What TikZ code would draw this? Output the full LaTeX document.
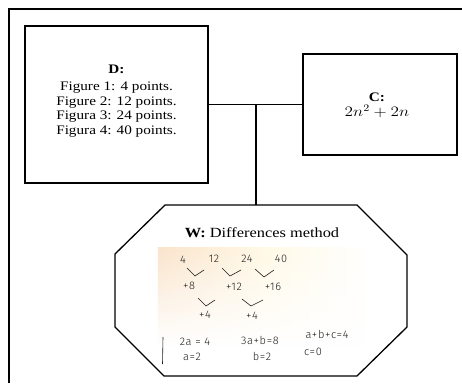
\documentclass[tikz,border=0pt]{standalone}
\usepackage{fontspec}
\setmainfont{Liberation Serif}[FakeStretch=1.17]
\newfontfamily\hand{Fira Sans Light}[LetterSpace=6]
\usetikzlibrary{fadings}
\definecolor{peach}{RGB}{250,228,204}
\definecolor{ink}{RGB}{30,30,30}
\tikzset{
  box/.style={draw, line width=1.3pt, inner sep=0pt},
  conn/.style={line width=1.2pt},
  lbl/.style={font=\fontsize{13}{14.5}\selectfont, align=center, inner sep=0pt},
  hw/.style={font=\hand\fontsize{11}{12}\selectfont, text=ink, inner sep=0pt, anchor=center},
  vmark/.style={draw=ink, line width=0.6pt},
}
\begin{document}
\begin{tikzpicture}[x=1pt,y=-1pt]
\useasboundingbox (0,0) rectangle (462,383);
\fill[white] (0,0) rectangle (462,383);
% outer frame (top and left visible)
\draw[line width=1.5pt] (9,383) -- (9,9) -- (462,9);
% D box
\node[box, minimum width=183pt, minimum height=157pt] (D) at (116.5,104.5) {};
\node[lbl] (Dt) at (116.5,101) {\textbf{D:}\\[3pt]Figure 1: 4 points.\\Figure 2: 12 points.\\Figura 3: 24 points.\\Figura 4: 40 points.};
% C box
\node[box, minimum width=154pt, minimum height=101pt] (C) at (380,104.5) {};
\node[lbl] (Ct) at (377,105) {\textbf{C:}\\[1pt]\scalebox{1.2}[1]{\fontsize{14}{15}\selectfont$2n^2+2n$}};
% octagon W
\coordinate (o1) at (165,205);
\coordinate (o2) at (357,205);
\coordinate (o3) at (407,255);
\coordinate (o4) at (407,327);
\coordinate (o5) at (357,376);
\coordinate (o6) at (164,376);
\coordinate (o7) at (115,327);
\coordinate (o8) at (115,254);
\coordinate (wtop) at (256,205);
\shade[left color=peach, right color=white, middle color={rgb,255:red,255;green,249;blue,230}, path fading=south] (158,247) rectangle (372,345);
\draw[line width=1.3pt, line join=miter] (o1) -- (o2) -- (o3) -- (o4) -- (o5) -- (o6) -- (o7) -- (o8) -- cycle;
\node[lbl, font=\fontsize{14}{15}\selectfont] (Wt) at (262,233) {\textbf{W:} Differences method};
% connectors
\coordinate (j) at (256,104.5);
\draw[conn] (D.east) -- (C.west);
\draw[conn] (j) -- (wtop);
% handwriting
\node[hw] (h1) at (183,260) {4};
\node[hw] (h2) at (214,259) {12};
\node[hw] (h3) at (247,259) {24};
\node[hw] (h4) at (281,259) {40};
\draw[vmark] (187,268) -- (195,276) -- (204,270);
\draw[vmark] (222,268) -- (230,276) -- (241,270);
\draw[vmark] (255,269) -- (264,277) -- (274,270);
\node[hw] (h5) at (189,286) {+8};
\node[hw] (h6) at (234,287) {+12};
\node[hw] (h7) at (273,287) {+16};
\draw[vmark] (198,298) -- (206,306) -- (215,300);
\draw[vmark] (242,299) -- (251,306) -- (263,300);
\node[hw] (h8) at (205,315) {+4};
\node[hw] (h9) at (252,316) {+4};
\draw[vmark] (163,337) -- (162.5,364);
\node[hw] (h10) at (195,342) {2a = 4};
\node[hw] (h11) at (260,340) {3a+b=8};
\node[hw] (h12) at (327,334) {a+b+c=4};
\node[hw] (h13) at (192,357) {a=2};
\node[hw] (h14) at (262,356) {b=2};
\node[hw] (h15) at (313,352) {c=0};
\end{tikzpicture}
\end{document}
